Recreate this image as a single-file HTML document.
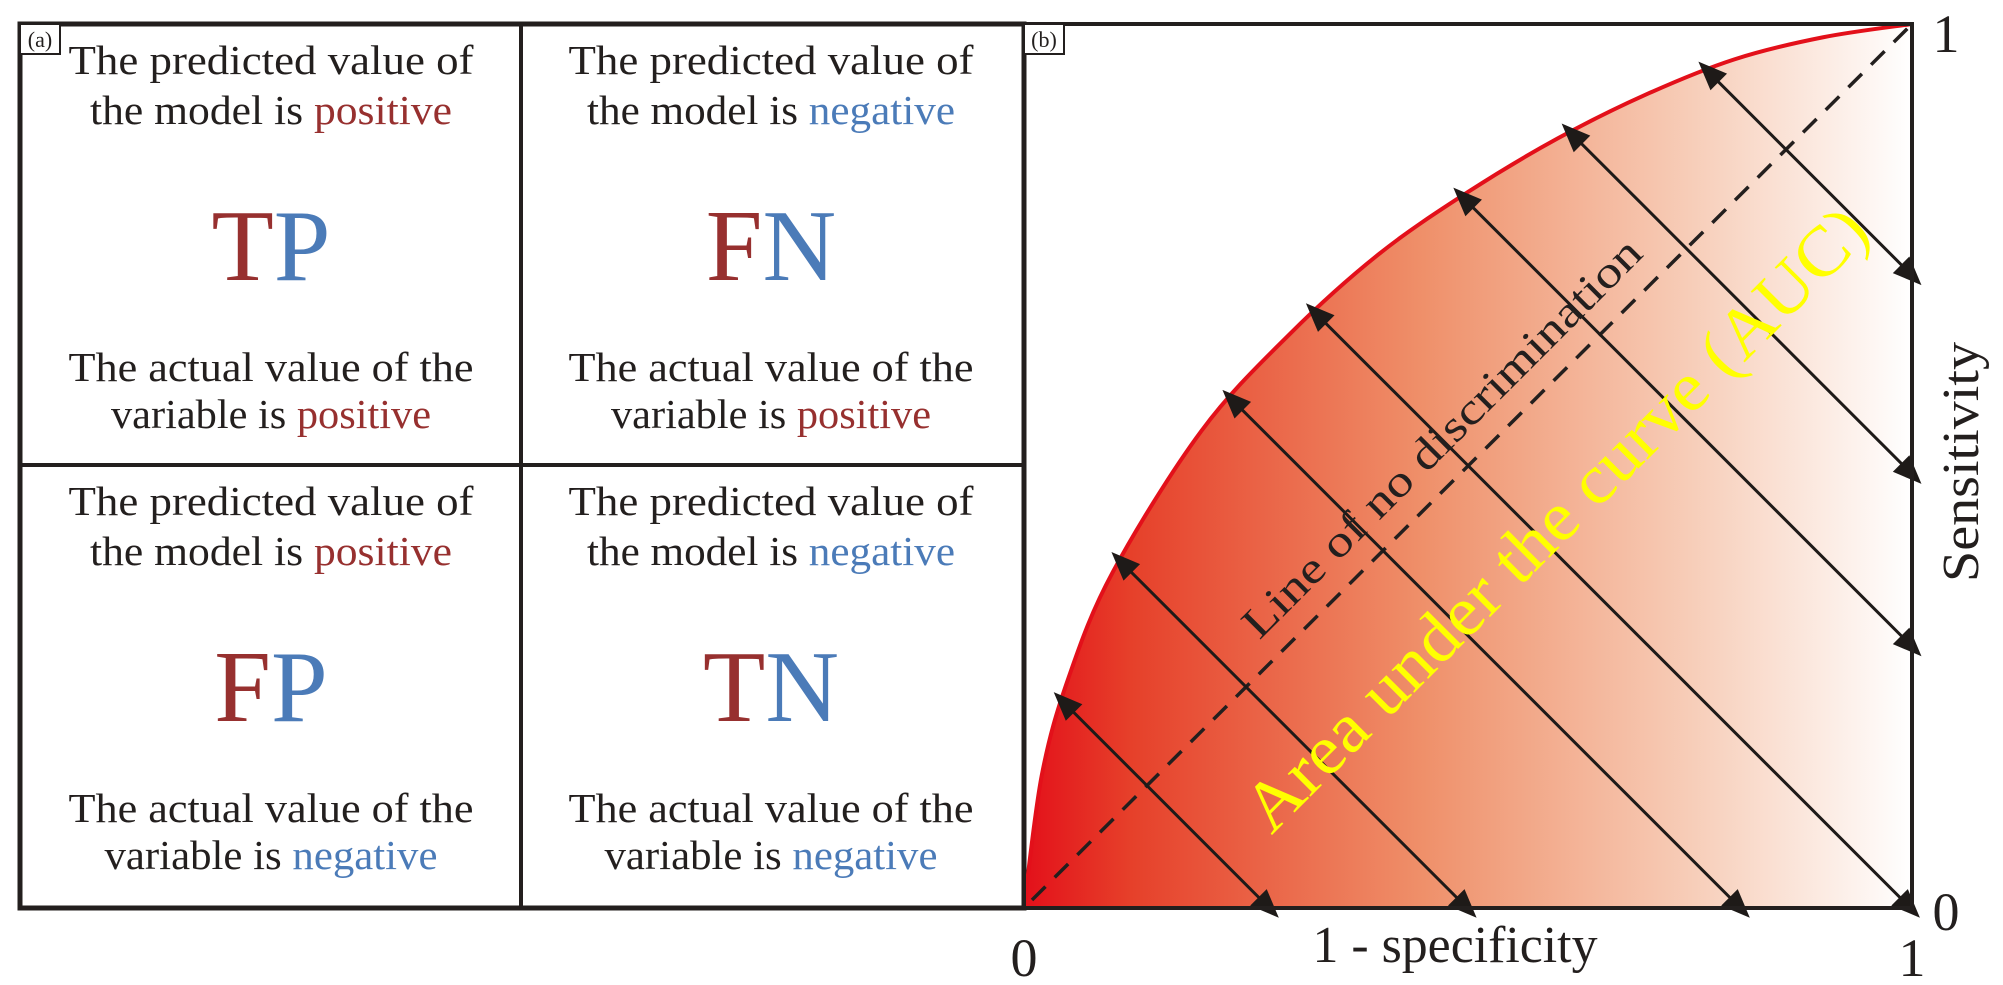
<!DOCTYPE html>
<html><head><meta charset="utf-8"><style>
html,body{margin:0;padding:0;background:#fff;}
svg{display:block;font-family:"Liberation Serif",serif;}
</style></head><body>
<svg id="fig" width="2003" height="985" viewBox="0 0 2003 985">
<defs>
<linearGradient id="auc" x1="0" y1="0" x2="1" y2="0">
<stop offset="0" stop-color="#e3101a"/>
<stop offset="0.12" stop-color="#e6402a"/>
<stop offset="0.45" stop-color="#ef906a"/>
<stop offset="0.75" stop-color="#f7cdb8"/>
<stop offset="1" stop-color="#ffffff"/>
</linearGradient>
<marker id="ah" viewBox="0 0 10 10" refX="9" refY="5" markerWidth="10" markerHeight="9" markerUnits="userSpaceOnUse" orient="auto-start-reverse" style="overflow:visible">
<path d="M0,0 L10,5 L0,10 Z" fill="#1e1a18" transform="scale(3.2,2.6) translate(-1,-3)"/>
</marker>
</defs>

<g>
<rect x="20" y="24" width="1004" height="884" fill="none" stroke="#231f1e" stroke-width="5"/>
<line x1="521" y1="24" x2="521" y2="908" stroke="#231f1e" stroke-width="4"/>
<line x1="20" y1="465" x2="1024" y2="465" stroke="#231f1e" stroke-width="4"/>
<rect x="20" y="24" width="40" height="30" fill="#fff" stroke="#231f1e" stroke-width="2"/>
<text x="40" y="47" font-size="22" text-anchor="middle" fill="#231f1e">(a)</text>
</g>
<g id="cells" font-size="41" text-anchor="middle" fill="#231f1e"></g>

<g id="roc"></g>
</svg>
<script>
const R='#97302f',B='#4b7bb8';
const cellCenters=[[271,0],[771,0],[271,441],[771,441]];
const predWord=['positive','negative','positive','negative'];
const actWord=['positive','positive','negative','negative'];
const abbr=[['T','P'],['F','N'],['F','P'],['T','N']];
const cells=document.getElementById('cells');
const NS='http://www.w3.org/2000/svg';
function mk(t,a,p){const e=document.createElementNS(NS,t);for(const k in a)e.setAttribute(k,a[k]);(p||cells).appendChild(e);return e;}
function col(w){return w==='positive'?R:B;}
cellCenters.forEach((c,i)=>{
 const [cx,dy]=c;
 let t=mk('text',{x:cx,y:74+dy,textLength:405,lengthAdjust:'spacingAndGlyphs'});t.textContent='The predicted value of';
 
 
 t=mk('text',{x:cx,y:124+dy,textLength:(i%2?368:362),lengthAdjust:'spacingAndGlyphs'});
 
 
 t.innerHTML='the model is <tspan fill="'+col(predWord[i])+'">'+predWord[i]+'</tspan>';
 t=mk('text',{x:cx,y:280+dy,'font-size':102});
 
 
 t.innerHTML='<tspan fill="'+R+'">'+abbr[i][0]+'</tspan><tspan fill="'+B+'">'+abbr[i][1]+'</tspan>';
 t=mk('text',{x:cx,y:381+dy,textLength:405,lengthAdjust:'spacingAndGlyphs'});t.textContent='The actual value of the';
 
 
 t=mk('text',{x:cx,y:428+dy,textLength:(actWord[i]==='positive'?320:333),lengthAdjust:'spacingAndGlyphs'});
 
 
 t.innerHTML='variable is <tspan fill="'+col(actWord[i])+'">'+actWord[i]+'</tspan>';
});

const curveFpr=[0,0.02,0.05,0.1,0.2,0.3,0.4,0.5,0.6,0.7,0.8,0.9,1];
const curveTpr=[0,0.15,0.26,0.38,0.54,0.65,0.74,0.81,0.87,0.92,0.96,0.985,1];
const arrowStarts=[0.043,0.108,0.233,0.327,0.493,0.615,0.769];
const xTicks=['0','1'];
const yTicks=['0','1'];
const X0=1024,X1=1912,Y0=908,Y1=24;
const sx=v=>X0+v*(X1-X0), sy=v=>Y0-v*(Y0-Y1);
const roc=document.getElementById('roc');
function interpT(f){for(let i=1;i<curveFpr.length;i++){if(f<=curveFpr[i]){const t=(f-curveFpr[i-1])/(curveFpr[i]-curveFpr[i-1]);return curveTpr[i-1]+t*(curveTpr[i]-curveTpr[i-1]);}}return 1;}
const pts=curveFpr.map((f,i)=>[sx(f),sy(curveTpr[i])]);
let d='M'+pts[0][0]+','+pts[0][1];
for(let i=0;i<pts.length-1;i++){const p0=pts[Math.max(0,i-1)],p1=pts[i],p2=pts[i+1],p3=pts[Math.min(pts.length-1,i+2)];
 d+=' C'+(p1[0]+(p2[0]-p0[0])/6)+','+(p1[1]+(p2[1]-p0[1])/6)+' '+(p2[0]-(p3[0]-p1[0])/6)+','+(p2[1]-(p3[1]-p1[1])/6)+' '+p2[0]+','+p2[1];}
let e=mk('path',{d:d+' L'+sx(1)+','+sy(0)+' Z',fill:'url(#auc)'},roc);


e=mk('path',{d:d,fill:'none',stroke:'#e3101a','stroke-width':4},roc);


e=mk('line',{x1:sx(0)+8,y1:sy(0)-8,x2:sx(1),y2:sy(1),stroke:'#231f1e','stroke-width':3.5,'stroke-dasharray':'19 13'},roc);


arrowStarts.forEach(f=>{
 const x=sx(f),y=sy(interpT(f));
 const k=Math.min(Y0-y, X1-x)-3;
 const a=mk('line',{x1:x+4,y1:y+4,x2:x+k,y2:y+k,stroke:'#1e1a18','stroke-width':3,'marker-start':'url(#ah)','marker-end':'url(#ah)'},roc);
 
 
});
e=mk('rect',{x:X0,y:Y1,width:X1-X0,height:Y0-Y1,fill:'none',stroke:'#231f1e','stroke-width':4},roc);


e=mk('rect',{x:X0,y:Y1,width:40,height:30,fill:'#fff',stroke:'#231f1e','stroke-width':2},roc);


e=mk('text',{x:X0+20,y:Y1+23,'font-size':22,'text-anchor':'middle',fill:'#231f1e'},roc);e.textContent='(b)';


xTicks.forEach((t,i)=>{const el=mk('text',{x:sx(i),y:976,'font-size':54,'text-anchor':'middle',fill:'#231f1e'},roc);el.textContent=t;
 
 });
yTicks.forEach((t,i)=>{const el=mk('text',{x:1946,y:i?52:930,'font-size':54,'text-anchor':'middle',fill:'#231f1e'},roc);el.textContent=t;
 
 });
e=mk('text',{x:1455,y:962,'font-size':52,'text-anchor':'middle',fill:'#231f1e',textLength:285,lengthAdjust:'spacingAndGlyphs'},roc);e.textContent='1 - specificity';


e=mk('text',{x:1978,y:462,'font-size':52,'text-anchor':'middle',fill:'#231f1e',textLength:240,lengthAdjust:'spacingAndGlyphs',transform:'rotate(-90 1978 462)'},roc);e.textContent='Sensitivity';


e=mk('text',{x:1452,y:448,'font-size':44,'text-anchor':'middle',fill:'#231f1e',textLength:545,lengthAdjust:'spacingAndGlyphs',transform:'rotate(-45 1452 448)'},roc);e.textContent='Line of no discrimination';


e=mk('text',{x:1572,y:535,'font-size':70,'text-anchor':'middle',fill:'#ffff00',textLength:850,lengthAdjust:'spacingAndGlyphs',transform:'rotate(-45 1572 535)'},roc);e.textContent='Area under the  curve (AUC)';


</script>
</body></html>
